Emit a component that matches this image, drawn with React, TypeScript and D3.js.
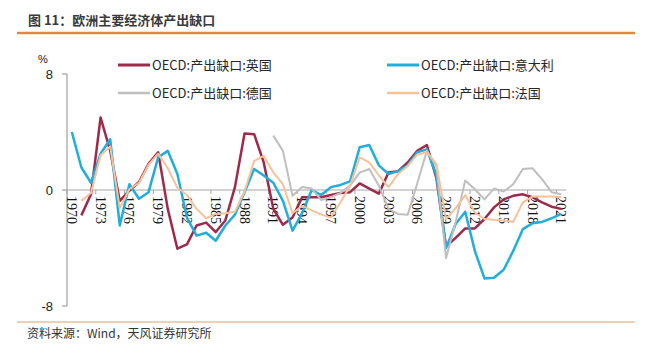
import React, { useEffect, useRef } from 'react';
import * as d3 from 'd3';

const years = d3.range(1970, 2022);

// OECD output gap, % of potential GDP
const uk = [
  null, -1.75, -0.3, 5.0, 2.7, -0.75, -0.05, 0.55, 1.8, 2.6,
  -1.3, -4.05, -3.75, -2.45, -2.25, -2.9, -2.1, 0.2, 3.9, 3.85,
  1.9, -1.3, -2.4, -1.9, -0.5, -0.5, -0.5, -0.35, -0.2, -0.15,
  0.45, 0.1, -0.25, 1.2, 1.3, 1.9, 2.7, 3.1, 0.8, -3.9,
  -3.3, -2.65, -2.65, -2.0, -1.2, -0.65, -0.4, -0.3, -0.5, -0.85,
  -1.15, -1.3,
];
const italy = [
  4.0, 1.55, 0.5, 2.5, 3.5, -2.45, 0.4, -0.6, -0.15, 2.25,
  2.7, 1.1, -1.9, -3.15, -2.95, -3.5, -2.45, -1.7, -0.15, 1.45,
  1.0, 0.5, -0.75, -2.8, -1.6, 0.0, -0.35, 0.2, 0.35, 0.6,
  2.95, 3.1, 1.7, 1.1, 1.3, 1.7, 2.6, 2.8, 1.0, -4.0,
  -2.35, -1.5, -4.2, -6.1, -6.05, -5.5, -4.2, -2.7, -2.3, -2.2,
  -1.95, -1.65,
];
const germany = [
  null, null, null, null, null, null, null, null, null, null,
  null, null, null, null, null, null, null, null, null, null,
  null, 3.75, 2.7, -0.4, 0.2, 0.1, -0.7, -0.5, -0.2, 0.3,
  1.2, 1.45, 0.3, -1.3, -1.65, -1.7, 0.45, 2.7, 1.6, -4.7,
  -2.2, 0.65, 0.05, -0.65, 0.1, -0.1, 0.4, 1.45, 1.5, 0.75,
  -0.15, -0.3,
];
const france = [
  null, -0.75, -0.2, 2.4, 3.0, -1.25, 0.05, 0.5, 1.75, 2.5,
  1.5, 0.15, -0.35, -1.3, -1.95, -1.65, -1.6, -1.5, -0.1, 2.0,
  2.35, 1.2, 0.4, -1.6, -1.1, -1.4, -1.7, -1.9, -0.85, 0.3,
  2.25, 1.9, 1.0, 0.2, 1.1, 1.65, 2.45, 2.6, 1.8, -2.0,
  -1.25, -0.35, -1.55, -2.0, -2.05, -2.1, -2.2, -0.85, -0.45, -0.45,
  -0.45, -0.5,
];

const seriesNames = ['OECD:产出缺口:英国', 'OECD:产出缺口:意大利', 'OECD:产出缺口:德国', 'OECD:产出缺口:法国'];
const yTicks = [-8, 0, 8];

const series = [
  { name: seriesNames[0], values: uk, color: '#9E2A4B', width: 2.5 },
  { name: seriesNames[1], values: italy, color: '#22AEDC', width: 2.5 },
  { name: seriesNames[2], values: germany, color: '#BFBFBF', width: 2 },
  { name: seriesNames[3], values: france, color: '#F6C29A', width: 2 },
];

const W = 647;
const H = 354;
const CJK = '"Noto Sans CJK SC", "Noto Sans", sans-serif';

export default function App() {
  const svgRef = useRef<SVGSVGElement>(null);

  useEffect(() => {
    if (!svgRef.current) return;
    const svg = d3.select(svgRef.current);
    svg.selectAll('*').remove();

    svg.append('rect').attr('width', W).attr('height', H).attr('fill', '#fff');

    // Header and footer
    svg.append('text')
      .attr('x', 28).attr('y', 25)
      .attr('font-family', CJK).attr('font-size', 13).attr('font-weight', 'bold')
      .attr('fill', '#3a3a3a')
      .text('图 11：欧洲主要经济体产出缺口');
    svg.append('line')
      .attr('x1', 17).attr('x2', 635).attr('y1', 33).attr('y2', 33)
      .attr('stroke', '#E2883A').attr('stroke-width', 2.5);
    svg.append('line')
      .attr('x1', 17).attr('x2', 635).attr('y1', 322).attr('y2', 322)
      .attr('stroke', '#D9A36E').attr('stroke-width', 1);
    svg.append('text')
      .attr('x', 27).attr('y', 338)
      .attr('font-family', CJK).attr('font-size', 12)
      .attr('fill', '#333')
      .text('资料来源：Wind，天风证券研究所');

    // Scales
    const x = d3.scaleBand<number>().domain(years).range([67, 566]).padding(0);
    const y = d3.scaleLinear().domain([-8, 8]).range([306, 74]);
    const cx = (yr: number) => (x(yr) as number) + x.bandwidth() / 2;

    // Y axis
    svg.append('line')
      .attr('x1', 67).attr('x2', 67).attr('y1', y(8)).attr('y2', y(-8))
      .attr('stroke', '#8c8c8c').attr('stroke-width', 1);
    yTicks.forEach(t => {
      svg.append('line')
        .attr('x1', 62).attr('x2', 67).attr('y1', y(t)).attr('y2', y(t))
        .attr('stroke', '#8c8c8c');
      svg.append('text')
        .attr('x', 53).attr('y', y(t)).attr('dy', '0.35em')
        .attr('text-anchor', 'end')
        .attr('font-family', '"Liberation Sans", Arial, sans-serif').attr('font-size', 13)
        .attr('fill', '#222')
        .text(t);
    });
    svg.append('text')
      .attr('x', 43).attr('y', 59).attr('dy', '0.35em')
      .attr('text-anchor', 'middle')
      .attr('font-family', '"Liberation Sans", Arial, sans-serif').attr('font-size', 11)
      .attr('fill', '#222')
      .text('%');

    // X axis along zero
    svg.append('line')
      .attr('x1', 67).attr('x2', 566).attr('y1', y(0)).attr('y2', y(0))
      .attr('stroke', '#a6a6a6').attr('stroke-width', 1);
    const labelYears = years.filter((_, i) => i % 3 === 0);
    labelYears.forEach(yr => {
      const x0 = x(yr) as number;
      svg.append('line')
        .attr('x1', x0).attr('x2', x0).attr('y1', y(0)).attr('y2', y(0) + 4)
        .attr('stroke', '#a6a6a6');
      svg.append('text')
        .attr('transform', `translate(${cx(yr)},${y(0) + 6}) rotate(90)`)
        .attr('dy', '0.35em')
        .attr('font-family', '"Liberation Serif", "DejaVu Serif", serif').attr('font-size', 14)
        .attr('fill', '#111')
        .text(yr);
    });

    // Lines
    const line = d3.line<number | null>()
      .defined(d => d != null)
      .x((_, i) => cx(years[i]))
      .y(d => y(d as number));

    series.forEach(s => {
      svg.append('path')
        .datum(s.values)
        .attr('fill', 'none')
        .attr('stroke', s.color)
        .attr('stroke-width', s.width)
        .attr('stroke-linejoin', 'round')
        .attr('d', line);
    });

    // Legend
    const legendPos = [
      { lx: 118, ly: 65 },
      { lx: 387, ly: 65 },
      { lx: 118, ly: 93 },
      { lx: 387, ly: 93 },
    ];
    series.forEach((s, i) => {
      const p = legendPos[i];
      svg.append('line')
        .attr('x1', p.lx).attr('x2', p.lx + 32).attr('y1', p.ly).attr('y2', p.ly)
        .attr('stroke', s.color).attr('stroke-width', s.width + 0.5);
      svg.append('text')
        .attr('x', p.lx + 34).attr('y', p.ly).attr('dy', '0.35em')
        .attr('font-family', CJK).attr('font-size', 13)
        .attr('fill', '#262626')
        .text(s.name);
    });
  }, []);

  return (
    <svg
      ref={svgRef}
      width={W}
      height={H}
      style={{ position: 'absolute', left: 0, top: 0 }}
    />
  );
}
